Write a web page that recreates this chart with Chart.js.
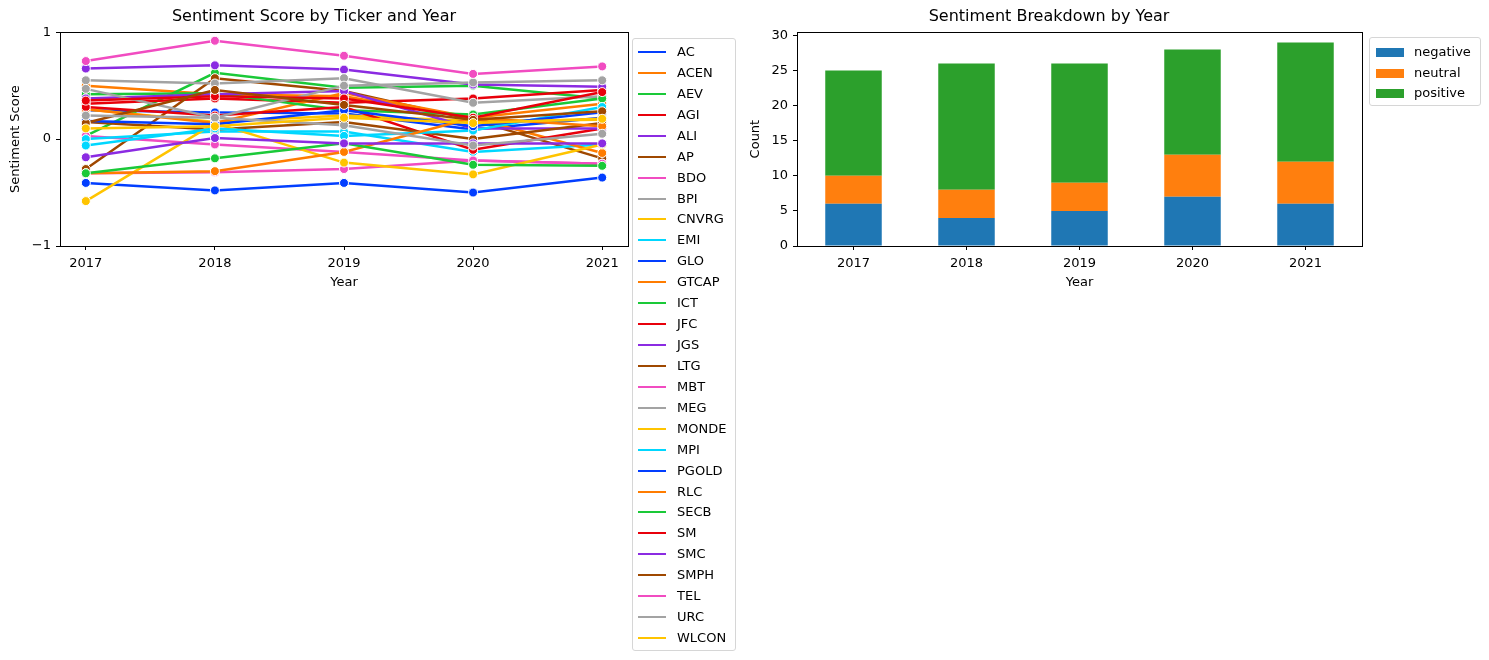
<!DOCTYPE html>
<html>
<head>
<meta charset="utf-8">
<script src="https://cdn.jsdelivr.net/npm/chart.js@4.4.1/dist/chart.umd.min.js"></script>
<style>
  body { margin: 0; background: #fff; width: 1489px; height: 660px; position: relative; overflow: hidden;
         font-family: "DejaVu Sans", sans-serif; }
  canvas { position: absolute; top: 0; }
  #lineChart { left: 0; }
  #barChart { left: 736px; }
  .legend { position: absolute; background: rgba(255,255,255,0.8); border: 1px solid #d6d6d6; border-radius: 3px;
            font-size: 13px; color: #000; z-index: 2; box-sizing: border-box; }
  .legend .row { position: absolute; left: 0; height: 16px; line-height: 16px; white-space: nowrap; }
  .legend .sw { position: absolute; }
  .legend .lbl { position: absolute; }
</style>
</head>
<body>
<canvas id="lineChart" width="640" height="290"></canvas>
<canvas id="barChart" width="634" height="290"></canvas>
<div id="lineLegend" class="legend"></div>
<div id="barLegend" class="legend"></div>
<script>
const years = [2017, 2018, 2019, 2020, 2021];
const tickers = ['AC','ACEN','AEV','AGI','ALI','AP','BDO','BPI','CNVRG','EMI','GLO','GTCAP','ICT','JFC','JGS',
                 'LTG','MBT','MEG','MONDE','MPI','PGOLD','RLC','SECB','SM','SMC','SMPH','TEL','URC','WLCON'];
// sentiment score per ticker, one value per year
const scores = {
  AC:    [0.27, 0.25, 0.24, 0.09, 0.20],
  ACEN:  [0.50, 0.42, 0.40, 0.20, 0.33],
  AEV:   [0.03, 0.62, 0.48, 0.50, 0.38],
  AGI:   [0.33, 0.38, 0.34, 0.38, 0.46],
  ALI:   [0.66, 0.69, 0.65, 0.51, 0.49],
  AP:    [-0.28, 0.57, 0.45, 0.18, -0.18],
  BDO:   [0.03, -0.05, -0.12, -0.20, -0.23],
  BPI:   [0.55, 0.52, 0.57, 0.34, 0.40],
  CNVRG: [0.28, 0.16, 0.22, 0.17, 0.18],
  EMI:   [0.00, 0.07, 0.07, -0.12, -0.05],
  GLO:   [-0.41, -0.48, -0.41, -0.50, -0.36],
  GTCAP: [0.28, 0.15, 0.43, 0.20, -0.13],
  ICT:   [0.42, 0.43, 0.27, 0.23, 0.38],
  JFC:   [0.30, 0.22, 0.30, -0.10, 0.10],
  JGS:   [0.38, 0.42, 0.45, 0.10, 0.10],
  LTG:   [0.16, 0.09, 0.16, 0.00, 0.15],
  MBT:   [-0.32, -0.31, -0.28, -0.20, -0.23],
  MEG:   [0.47, 0.20, 0.50, 0.53, 0.55],
  MONDE: [-0.58, 0.15, -0.22, -0.33, -0.05],
  MPI:   [-0.06, 0.10, 0.03, 0.08, 0.30],
  PGOLD: [0.17, 0.14, 0.27, 0.12, 0.25],
  RLC:   [-0.32, -0.30, -0.12, 0.20, 0.12],
  SECB:  [-0.32, -0.18, -0.04, -0.24, -0.25],
  SM:    [0.36, 0.40, 0.38, 0.20, 0.44],
  SMC:   [-0.17, 0.01, -0.04, -0.04, -0.04],
  SMPH:  [0.15, 0.46, 0.32, 0.18, 0.26],
  TEL:   [0.73, 0.92, 0.78, 0.61, 0.68],
  URC:   [0.22, 0.20, 0.13, -0.06, 0.05],
  WLCON: [0.10, 0.12, 0.20, 0.15, 0.19]
};
const palette = ['#023eff','#ff7c00','#1ac938','#e8000b','#8b2be2','#9f4800','#f14cc1','#a3a3a3','#ffc400','#00d7ff'];

const sentiments = ['negative', 'neutral', 'positive'];
const negative = [6, 4, 5, 7, 6];
const neutral = [4, 4, 4, 6, 6];
const positive = [15, 18, 17, 15, 17];
const barColors = ['#1f77b4', '#ff7f0e', '#2ca02c'];

Chart.defaults.font.family = '"DejaVu Sans", sans-serif';
Chart.defaults.font.size = 13;
Chart.defaults.color = '#000';

// matplotlib-style full box around the plot area
const frame = {
  id: 'frame',
  afterDraw(c) {
    const a = c.chartArea, ctx = c.ctx;
    ctx.save();
    ctx.strokeStyle = '#000';
    ctx.lineWidth = 1;
    ctx.strokeRect(Math.round(a.left) + 0.5, Math.round(a.top) + 0.5,
                   Math.round(a.right - a.left), Math.round(a.bottom - a.top));
    ctx.restore();
  }
};

const tickGrid = { display: true, drawOnChartArea: false, tickLength: 4, color: '#000', offset: false };
const titleFont = { size: 16, weight: 'normal' };

const lineSets = tickers.map((t, i) => ({
  label: t,
  data: years.map((y, j) => ({ x: y, y: scores[t][j] })),
  borderColor: palette[i % 10],
  backgroundColor: palette[i % 10],
  borderWidth: 2.5,
  pointRadius: 4.5,
  pointBorderColor: '#fff',
  pointBorderWidth: 1,
  pointBackgroundColor: palette[i % 10],
  order: -i
}));

new Chart(document.getElementById('lineChart'), {
  type: 'line',
  data: { datasets: lineSets },
  options: {
    responsive: false, animation: false, devicePixelRatio: 1,
    layout: { padding: { left: 0, right: 12, top: 0, bottom: 0 } },
    plugins: {
      legend: { display: false }, tooltip: { enabled: false },
      title: { display: true, text: 'Sentiment Score by Ticker and Year', font: titleFont, color: '#000',
               padding: { top: 7, bottom: 6 } }
    },
    scales: {
      x: {
        type: 'linear', min: 2016.8, max: 2021.2,
        afterBuildTicks: s => { s.ticks = years.map(v => ({ value: v })); },
        afterFit: s => { s.height = 44; },
        ticks: { callback: v => String(v), padding: 6, maxRotation: 0 },
        grid: tickGrid, border: { color: '#000' },
        title: { display: true, text: 'Year', padding: { top: 0, bottom: 0 } }
      },
      y: {
        min: -1, max: 1,
        afterBuildTicks: s => { s.ticks = [-1, 0, 1].map(v => ({ value: v })); },
        afterFit: s => { s.width = 60; },
        ticks: { callback: v => (v < 0 ? '\u2212' + Math.abs(v) : String(v)), padding: 5 },
        grid: tickGrid, border: { color: '#000' },
        title: { display: true, text: 'Sentiment Score', padding: { top: 8, bottom: 0 } }
      }
    }
  },
  plugins: [frame]
});

new Chart(document.getElementById('barChart'), {
  type: 'bar',
  data: {
    datasets: [negative, neutral, positive].map((arr, i) => ({
      label: sentiments[i],
      data: arr.map((v, j) => ({ x: j, y: v })),
      backgroundColor: barColors[i],
      barPercentage: 0.5, categoryPercentage: 1
    }))
  },
  options: {
    responsive: false, animation: false, devicePixelRatio: 1,
    layout: { padding: { left: 0, right: 8, top: 0, bottom: 0 } },
    plugins: {
      legend: { display: false }, tooltip: { enabled: false },
      title: { display: true, text: 'Sentiment Breakdown by Year', font: titleFont, color: '#000',
               padding: { top: 7, bottom: 6 } }
    },
    scales: {
      x: {
        type: 'linear', stacked: true, min: -0.5, max: 4.5, offset: false,
        afterBuildTicks: s => { s.ticks = years.map((y, j) => ({ value: j })); },
        afterFit: s => { s.height = 44; },
        ticks: { callback: v => String(years[v]), padding: 6, maxRotation: 0 },
        grid: tickGrid, border: { color: '#000' },
        title: { display: true, text: 'Year', padding: { top: 0, bottom: 0 } }
      },
      y: {
        stacked: true, min: 0, max: 30.45,
        afterBuildTicks: s => { s.ticks = [0, 5, 10, 15, 20, 25, 30].map(v => ({ value: v })); },
        afterFit: s => { s.width = 61; },
        ticks: { padding: 5 },
        grid: tickGrid, border: { color: '#000' },
        title: { display: true, text: 'Count', padding: { top: 12, bottom: 0 } }
      }
    }
  },
  plugins: [frame]
});

// html legends, matplotlib style
function buildLegend(el, box, items, rowH, swatch) {
  Object.assign(el.style, { left: box.x + 'px', top: box.y + 'px', width: box.w + 'px', height: box.h + 'px' });
  items.forEach((it, i) => {
    const row = document.createElement('div');
    row.className = 'row';
    row.style.top = (box.first + i * rowH - 8) + 'px';
    row.style.width = '100%';
    const sw = document.createElement('div');
    sw.className = 'sw';
    Object.assign(sw.style, swatch(it.color));
    const lbl = document.createElement('div');
    lbl.className = 'lbl';
    lbl.style.left = box.textX + 'px';
    lbl.textContent = it.label;
    row.appendChild(sw);
    row.appendChild(lbl);
    el.appendChild(row);
  });
}

buildLegend(document.getElementById('lineLegend'),
  { x: 632, y: 38, w: 104, h: 613, first: 13, textX: 44 },
  tickers.map((t, i) => ({ label: t, color: palette[i % 10] })), 20.93,
  c => ({ left: '5px', top: '7px', width: '28px', height: '2px', background: c }));

buildLegend(document.getElementById('barLegend'),
  { x: 1369, y: 37, w: 112, h: 69, first: 14, textX: 44 },
  sentiments.map((s, i) => ({ label: s, color: barColors[i] })), 20.5,
  c => ({ left: '6px', top: '4px', width: '28px', height: '9px', background: c }));
</script>
</body>
</html>
